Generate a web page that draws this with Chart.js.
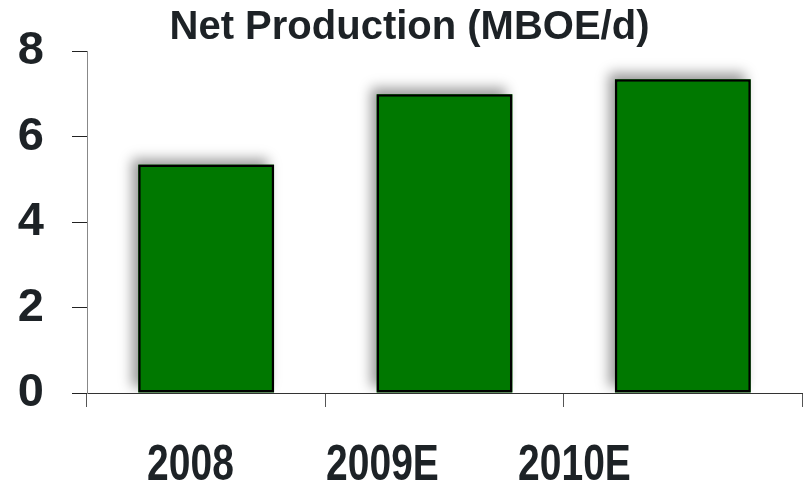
<!DOCTYPE html>
<html>
<head>
<meta charset="utf-8">
<script src="https://cdn.jsdelivr.net/npm/chart.js@4/dist/chart.umd.min.js"></script>
<style>
  html, body { margin: 0; padding: 0; background: #ffffff; }
  #wrap { width: 803px; height: 485px; position: relative; }
</style>
</head>
<body>
<div id="wrap"><canvas id="chart"></canvas></div>
<script>
// Net production by year (MBOE/d)
const categories = ['2008', '2009E', '2010E'];
const netProduction = [5.35, 7.0, 7.35];
const yTicks = [0, 2, 4, 6, 8];
const chartTitle = 'Net Production (MBOE/d)';

const textColor = '#1d2226';

// Soft drop shadow cast up and to the left of each bar
const barShadow = {
  id: 'barShadow',
  beforeDatasetsDraw(chart) {
    const ctx = chart.ctx;
    const area = chart.chartArea;
    ctx.save();
    ctx.beginPath();
    ctx.rect(area.left, area.top - 20, area.right - area.left, area.bottom - area.top + 20);
    ctx.clip();
    ctx.shadowColor = 'rgba(0,0,0,0.4)';
    ctx.shadowBlur = 12;
    ctx.shadowOffsetX = -6;
    ctx.shadowOffsetY = -6;
    ctx.fillStyle = '#007800';
    chart.getDatasetMeta(0).data.forEach(bar => {
      const { x, y, base, width } = bar.getProps(['x', 'y', 'base', 'width'], true);
      ctx.fillRect(x - width / 2, y, width, base - y);
    });
    ctx.restore();
  }
};

// Category names under the axis are set in a tall, narrow bold face
const tallCategoryLabels = {
  id: 'tallCategoryLabels',
  beforeDraw(chart) {
    const scale = chart.scales.x2;
    if (!scale || scale._tallPatched) return;
    const original = scale.drawLabels;
    scale.drawLabels = function (area) {
      const items = this.getLabelItems(area);
      if (!items.length) return original.call(this, area);
      const y0 = items[0].options.translation[1];
      const ctx = this.ctx;
      ctx.save();
      ctx.translate(0, y0);
      ctx.scale(1, 1.28);
      ctx.translate(0, -y0);
      original.call(this, area);
      ctx.restore();
    };
    scale._tallPatched = true;
  }
};

new Chart(document.getElementById('chart'), {
  type: 'bar',
  data: {
    labels: categories,
    datasets: [{
      data: netProduction,
      backgroundColor: '#007800',
      borderColor: '#000000',
      borderWidth: 2.5,
      borderSkipped: false,
      categoryPercentage: 1,
      barPercentage: 0.57
    }]
  },
  options: {
    responsive: true,
    maintainAspectRatio: false,
    animation: false,
    layout: { padding: { left: 17, right: 1, top: 0, bottom: 0 } },
    plugins: {
      legend: { display: false },
      tooltip: { enabled: false },
      title: {
        display: true,
        text: chartTitle,
        color: textColor,
        font: { family: '"Liberation Sans", Arial, sans-serif', size: 40, weight: 'bold', lineHeight: 1.2 },
        padding: { top: 1, bottom: 0 }
      }
    },
    scales: {
      x: {
        type: 'category',
        position: 'bottom',
        weight: 0,
        offset: true,
        grid: { display: true, drawOnChartArea: false, drawTicks: true, tickLength: 14, color: '#555555', offset: true },
        border: { display: true, color: '#333333', width: 1 },
        ticks: { display: false },
        afterFit(axis) { axis.height = 14; }
      },
      x2: {
        type: 'linear',
        position: 'bottom',
        weight: 1,
        offset: false,
        min: 0.461,
        max: 4.185,
        grid: { display: false, drawTicks: false, offset: false },
        border: { display: false },
        afterBuildTicks(axis) {
          axis.ticks = categories.map((_, i) => ({ value: i + 1 }));
        },
        afterFit(axis) { axis.height = 78; },
        ticks: {
          autoSkip: false,
          maxRotation: 0,
          padding: 34,
          color: textColor,
          font: { family: '"Liberation Sans", Arial, sans-serif', size: 39, weight: 'bold', lineHeight: 1.0 },
          callback: (v) => categories[Math.round(v) - 1] ?? ''
        }
      },
      y: {
        min: 0,
        max: 8,
        afterBuildTicks(axis) {
          axis.ticks = yTicks.map(v => ({ value: v }));
        },
        afterFit(axis) { axis.width = 70; },
        grid: { display: true, drawOnChartArea: false, drawTicks: true, tickLength: 15, color: '#222222' },
        border: { display: true, color: '#888888', width: 1 },
        ticks: {
          padding: 28,
          color: textColor,
          font: { family: '"Liberation Sans", Arial, sans-serif', size: 47, weight: 'bold', lineHeight: 1.0 }
        }
      }
    }
  },
  plugins: [barShadow, tallCategoryLabels]
});
</script>
</body>
</html>
